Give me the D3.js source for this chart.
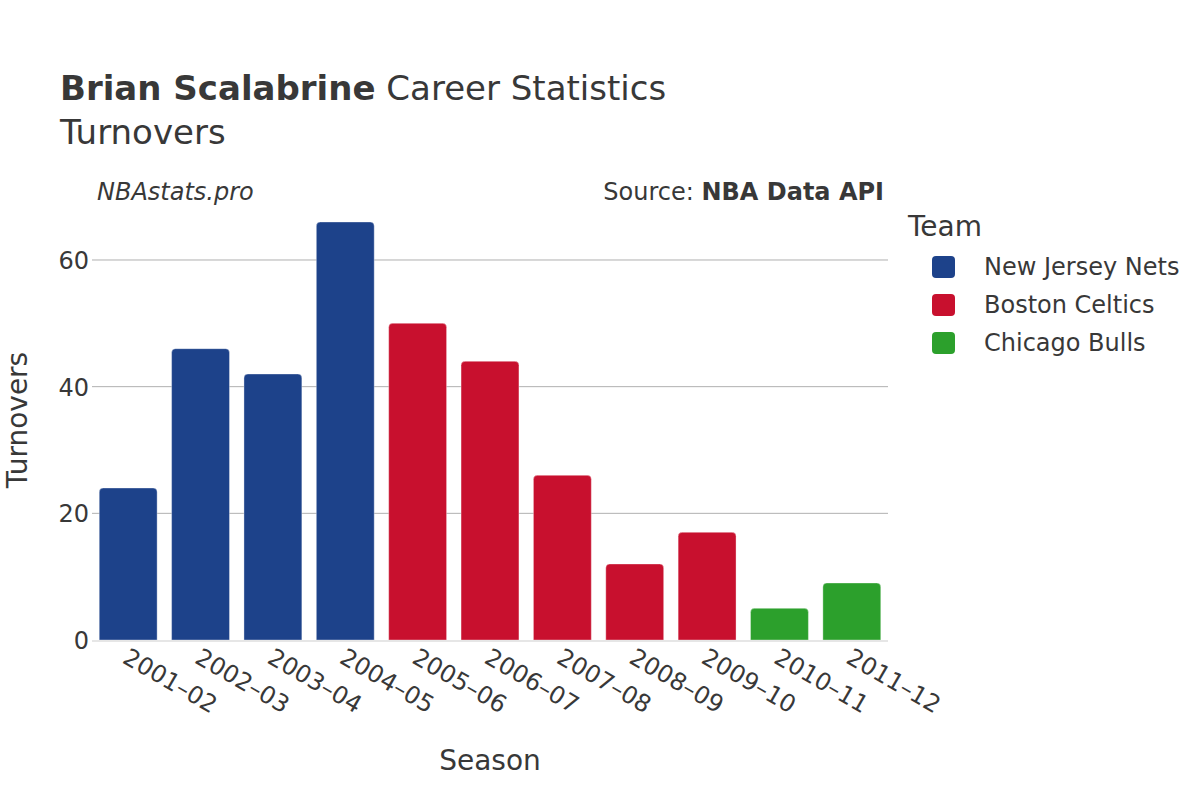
<!DOCTYPE html>
<html>
<head>
<meta charset="utf-8">
<title>Brian Scalabrine Turnovers</title>
<script src="https://d3js.org/d3.v7.min.js"></script>
<style>
	body { margin: 0; background: #fff; }
	svg text { font-family: "DejaVu Sans", sans-serif; fill: #383838; }
</style>
</head>
<body>
<svg id="chart" width="1200" height="800"></svg>
<script>
var seasons = ["2001–02", "2002–03", "2003–04", "2004–05", "2005–06", "2006–07", "2007–08", "2008–09", "2009–10", "2010–11", "2011–12"];
var turnovers = [24, 46, 42, 66, 50, 44, 26, 12, 17, 5, 9];
var teams = ["New Jersey Nets", "New Jersey Nets", "New Jersey Nets", "New Jersey Nets", "Boston Celtics", "Boston Celtics", "Boston Celtics", "Boston Celtics", "Boston Celtics", "Chicago Bulls", "Chicago Bulls"];
var teamNames = ["New Jersey Nets", "Boston Celtics", "Chicago Bulls"];
var teamColors = ["#1d428a", "#c8102e", "#2ca02c"];
var yTicks = [0, 20, 40, 60];

var margin = {top: 200, left: 92, right: 312, bottom: 160};
var width = 1200 - margin.left - margin.right,
	height = 800 - margin.top - margin.bottom;

var svg = d3.select("#chart");

var color = d3.scaleOrdinal().domain(teamNames).range(teamColors);

var x = d3.scaleBand()
	.domain(seasons)
	.range([0, width])
	.paddingInner(0.2)
	.paddingOuter(0.1);

var y = d3.scaleLinear()
	.domain([0, d3.max(turnovers) * 1.0526])
	.range([height, 0]);

var main = svg.append("g")
	.attr("transform", "translate(" + margin.left + "," + margin.top + ")");

// grid lines
main.append("g")
	.selectAll("line")
	.data(yTicks.filter(function(d) { return d > 0; }))
	.enter().append("line")
	.attr("x1", 0)
	.attr("x2", width)
	.attr("y1", function(d) { return y(d); })
	.attr("y2", function(d) { return y(d); })
	.attr("stroke", "#b0b0b0")
	.attr("stroke-width", 1);

// y axis
var yAxis = main.append("g")
	.call(d3.axisLeft(y).tickValues(yTicks).tickSize(0).tickPadding(3));
yAxis.select(".domain").remove();
yAxis.selectAll("text")
	.style("font-size", "24px")
	.attr("dy", "0.36em");

// bars with rounded top corners
function barPath(d, i) {
	var x0 = x(seasons[i]), w = x.bandwidth();
	var y0 = y(d), y1 = y(0);
	var r = Math.min(4, (y1 - y0) / 2);
	return "M" + x0 + "," + y1 +
		"V" + (y0 + r) +
		"Q" + x0 + "," + y0 + " " + (x0 + r) + "," + y0 +
		"H" + (x0 + w - r) +
		"Q" + (x0 + w) + "," + y0 + " " + (x0 + w) + "," + (y0 + r) +
		"V" + y1 + "Z";
}

main.append("g")
	.selectAll("path")
	.data(turnovers)
	.enter().append("path")
	.attr("d", barPath)
	.attr("fill", function(d, i) { return color(teams[i]); })
	.attr("stroke", "rgba(255,255,255,0.35)")
	.attr("stroke-width", 1);

// zero line
main.append("line")
	.attr("x1", 0)
	.attr("x2", width)
	.attr("y1", y(0) + 1)
	.attr("y2", y(0) + 1)
	.attr("stroke", "#e6e6e6")
	.attr("stroke-width", 2);

// x axis
var xAxis = main.append("g")
	.attr("transform", "translate(0," + height + ")")
	.call(d3.axisBottom(x).tickSize(0).tickPadding(0));
xAxis.select(".domain").remove();
xAxis.selectAll("text")
	.style("font-size", "24px")
	.style("text-anchor", "start")
	.attr("dy", null)
	.attr("y", 0)
	.attr("transform", "translate(-7,22) rotate(30)");

// axis titles
svg.append("text")
	.attr("x", margin.left + width / 2)
	.attr("y", 770)
	.attr("text-anchor", "middle")
	.style("font-size", "28px")
	.text("Season");

svg.append("text")
	.attr("transform", "translate(27," + (margin.top + height / 2) + ") rotate(-90)")
	.attr("text-anchor", "middle")
	.style("font-size", "28px")
	.text("Turnovers");

// title
var title = svg.append("text")
	.attr("x", 60)
	.attr("y", 100)
	.style("font-size", "34px");
title.append("tspan").style("font-weight", "bold").text("Brian Scalabrine");
title.append("tspan").text(" Career Statistics");

svg.append("text")
	.attr("x", 60)
	.attr("y", 144)
	.style("font-size", "34px")
	.text("Turnovers");

svg.append("text")
	.attr("x", 97)
	.attr("y", 200)
	.style("font-size", "24px")
	.style("font-style", "italic")
	.text("NBAstats.pro");

var source = svg.append("text")
	.attr("x", 884)
	.attr("y", 200)
	.attr("text-anchor", "end")
	.style("font-size", "24px");
source.append("tspan").text("Source: ");
source.append("tspan").style("font-weight", "bold").text("NBA Data API");

// legend
var legend = svg.append("g").attr("transform", "translate(908,0)");
legend.append("text")
	.attr("x", 0)
	.attr("y", 236)
	.style("font-size", "28px")
	.text("Team");

var items = legend.selectAll(".item")
	.data(teamNames)
	.enter().append("g")
	.attr("class", "item")
	.attr("transform", function(d, i) { return "translate(0," + (267 + i * 38) + ")"; });

items.append("rect")
	.attr("x", 24)
	.attr("y", -11)
	.attr("width", 23)
	.attr("height", 22)
	.attr("rx", 4)
	.attr("fill", function(d) { return color(d); });

items.append("text")
	.attr("x", 76)
	.attr("y", 8)
	.style("font-size", "24px")
	.text(function(d) { return d; });
</script>
</body>
</html>
